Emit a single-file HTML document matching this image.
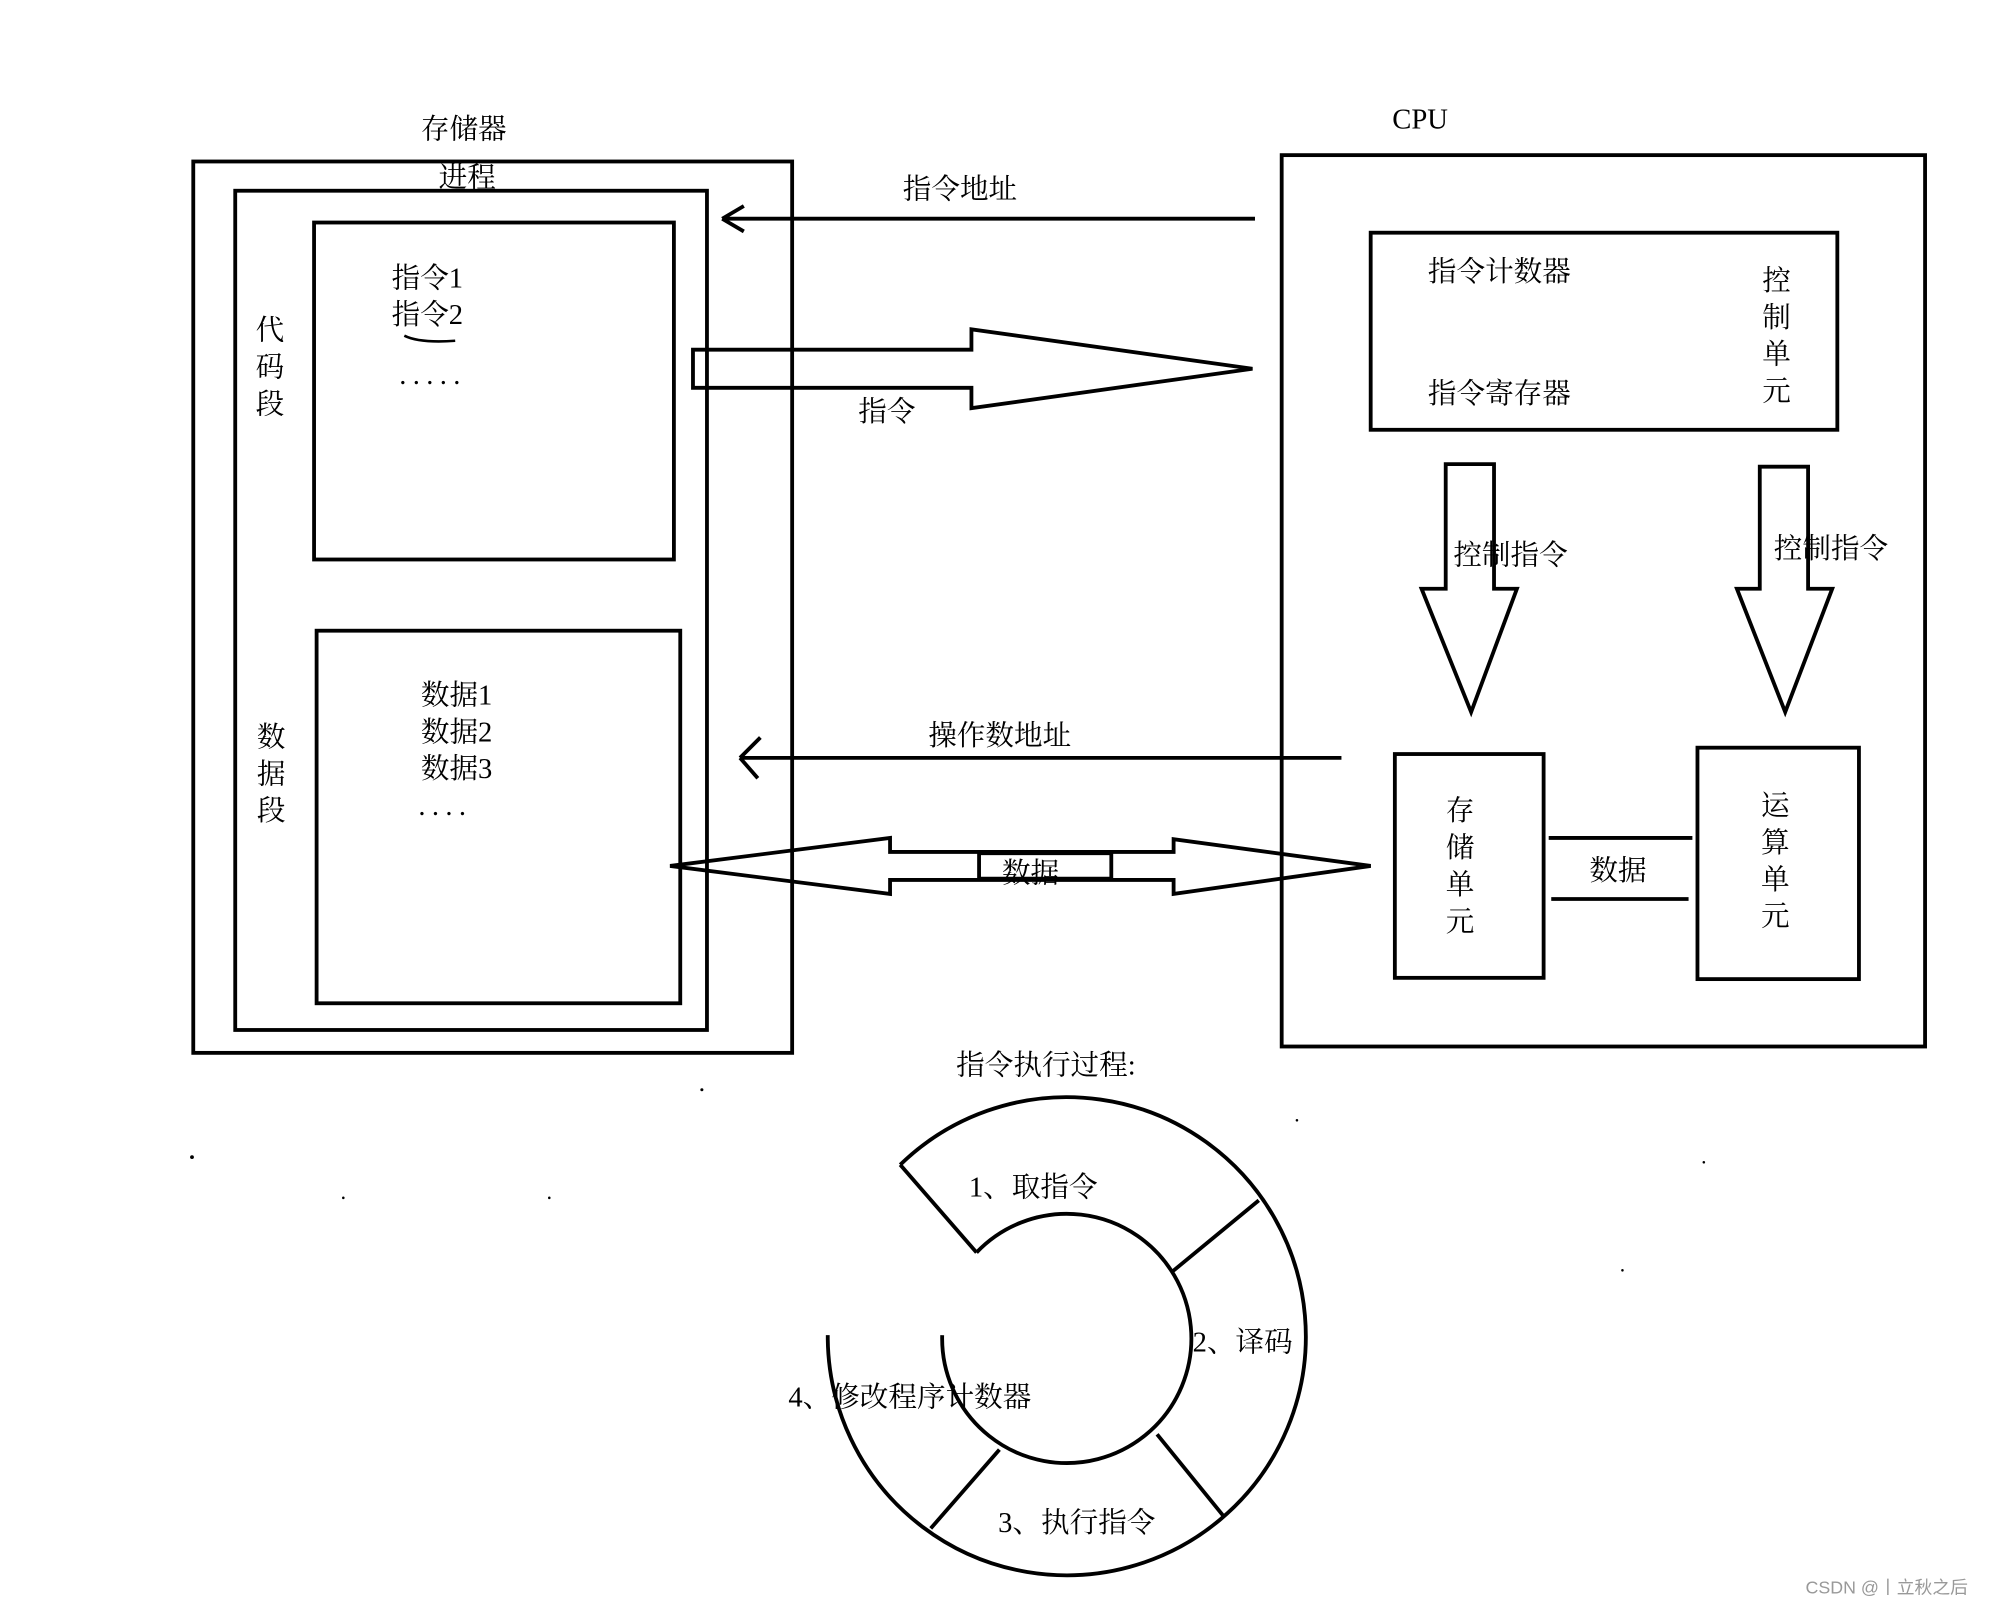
<!DOCTYPE html>
<html><head><meta charset="utf-8"><style>
html,body{margin:0;padding:0;background:#fff;}
svg{display:block;}
text{font-family:"Liberation Serif","Noto Serif CJK SC",serif;font-size:22.5px;fill:#000;}
.dots{letter-spacing:5px;}
</style></head><body>
<svg width="1995" height="1606" viewBox="0 0 1569 1263" preserveAspectRatio="none" xmlns="http://www.w3.org/2000/svg">
<g fill="none" stroke="#000" stroke-width="3">
<rect x="152" y="127" width="471" height="701"/>
<rect x="185" y="150" width="371" height="660"/>
<rect x="247" y="175" width="283" height="265"/>
<rect x="249" y="496" width="286" height="293"/>
<path d="M318 264 Q330 270 358 268" stroke-width="2"/>
<path d="M987 172 L568 172 M568 172 L585 162 M568 172 L585 182"/>
<path d="M545 275 L764 275 L764 259 L985 290 L764 321 L764 305 L545 305 Z"/>
<rect x="1008" y="122" width="506" height="701"/>
<rect x="1078" y="183" width="367" height="155"/>
<path d="M1137 365 L1175 365 L1175 463 L1193 463 L1157 560 L1118 463 L1137 463 Z"/>
<path d="M1384 367 L1422 367 L1422 463 L1441 463 L1404 560 L1366 463 L1384 463 Z"/>
<path d="M1055 596 L582 596 M582 596 L598 580 M582 596 L596 612"/>
<path d="M527 681 L700 659 L700 670 L923 670 L923 660 L1078 681 L923 703 L923 692 L700 692 L700 703 Z"/>
<rect x="770" y="671" width="104" height="20"/>
<rect x="1097" y="593" width="117" height="176"/>
<path d="M1218 659 L1331 659 M1220 707 L1328 707"/>
<rect x="1335" y="588" width="127" height="182"/>
<path d="M708 916 A188 188 0 1 1 651 1053 L651 1050"/>
<path d="M708 916 L768 985"/>
<path d="M768 985 A98 98 0 1 1 741 1050"/>
<path d="M922 1000 L990 944 M910 1128 L962 1192 M786 1140 L732 1202"/>
</g>
<g fill="#000">
<circle cx="552" cy="857" r="1.2"/><circle cx="151" cy="910" r="1.5"/><circle cx="270" cy="942" r="1"/><circle cx="432" cy="942" r="1"/><circle cx="1020" cy="881" r="1"/><circle cx="1340" cy="914" r="1"/><circle cx="1276" cy="999" r="1"/>
</g>
<text x="331" y="109">存储器</text>
<text x="345" y="147">进程</text>
<text x="308" y="226">指令1</text>
<text x="308" y="255">指令2</text>
<text x="314" y="302" class="dots">.....</text>
<text x="201" y="267">代</text><text x="201" y="296">码</text><text x="201" y="325">段</text>
<text x="331" y="554">数据1</text>
<text x="331" y="583">数据2</text>
<text x="331" y="612">数据3</text>
<text x="329" y="641" class="dots">....</text>
<text x="202" y="587">数</text><text x="202" y="616">据</text><text x="202" y="645">段</text>
<text x="710" y="156">指令地址</text>
<text x="675" y="331">指令</text>
<text x="1095" y="101">CPU</text>
<text x="1123" y="221">指令计数器</text>
<text x="1123" y="317">指令寄存器</text>
<text x="1386" y="228">控</text><text x="1386" y="257">制</text><text x="1386" y="286">单</text><text x="1386" y="315">元</text>
<text x="1143" y="444">控制指令</text>
<text x="1395" y="439">控制指令</text>
<text x="730" y="586">操作数地址</text>
<text x="788" y="694">数据</text>
<text x="1137" y="645">存</text><text x="1137" y="674">储</text><text x="1137" y="703">单</text><text x="1137" y="732">元</text>
<text x="1250" y="692">数据</text>
<text x="1385" y="641">运</text><text x="1385" y="670">算</text><text x="1385" y="699">单</text><text x="1385" y="728">元</text>
<text x="752" y="845">指令执行过程:</text>
<text x="762" y="941">1、取指令</text>
<text x="938" y="1063">2、译码</text>
<text x="785" y="1205">3、执行指令</text>
<text x="620" y="1106">4、修改程序计数器</text>
<text x="1420" y="1253" style="font-family:'Liberation Sans','Noto Sans CJK SC',sans-serif;font-size:14px;fill:#999">CSDN @丨立秋之后</text>
</svg>
</body></html>
